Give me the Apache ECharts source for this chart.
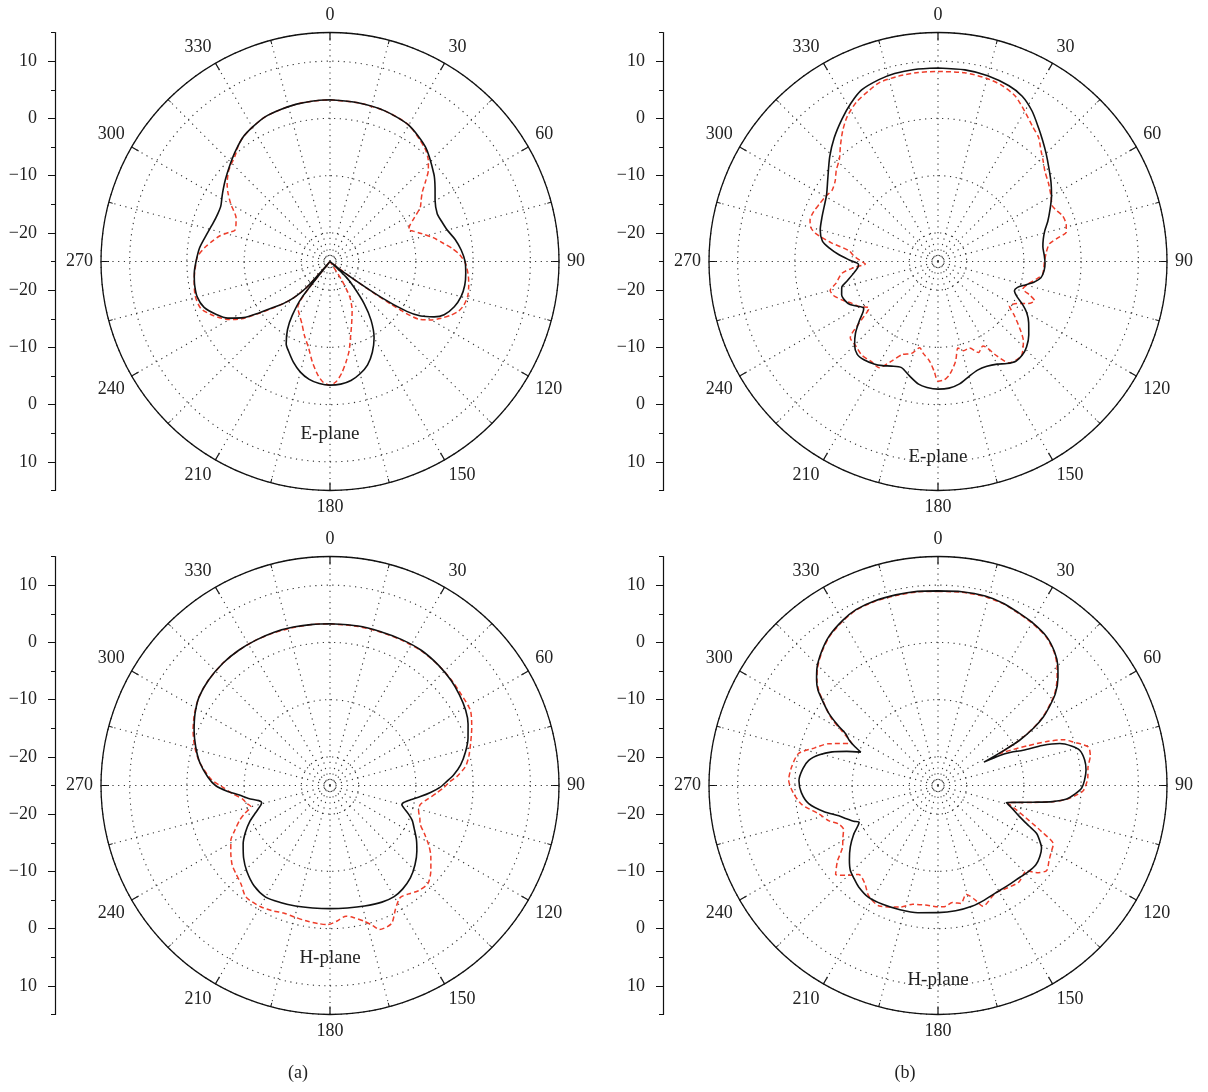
<!DOCTYPE html>
<html>
<head>
<meta charset="utf-8">
<title>E-plane / H-plane patterns</title>
<script src="https://cdn.jsdelivr.net/npm/echarts@6.0.0/dist/echarts.min.js"></script>
<style>
  html, body { margin: 0; padding: 0; background: #fff; }
  #chart { width: 1208px; height: 1092px; }
</style>
</head>
<body>
<div id="chart"></div>
<script>
// left scale labels, bottom to top (mirrored dB scale)
const scaleLabels = [10, 0, -10, -20, -20, -10, 0, 10];

// (a) E-plane
const aBlackAng = [0,10,20,30,40,50,55,60,66,70,75,80,85,90,95,100,105,110,115,118,121,123,125,128,131,134,137,141,145,150,155,160,165,170,175,180,185,190,195,200,205,208,212,215,218,220,222,225,228,231,234,237,241,245,250,255,260,265,270,276,282,288,293,297,301,304,308,313,319,325,330,336,342,348,354,360];
const aBlackDb = [3.25,3.15,3.0,2.5,1.0,-1.3,-2.6,-3.8,-4.5,-4.3,-3.8,-2.8,-2.0,-1.4,-1.2,-1.1,-1.3,-1.9,-3.0,-4.4,-6.5,-9,-14,-22,-25,-21,-18.9,-15.5,-12.5,-9.6,-7.5,-5.8,-4.7,-3.9,-3.5,-3.4,-3.6,-4.1,-5.0,-6.3,-7.8,-8.7,-11,-13.5,-17,-25,-19,-16,-14,-12.2,-9.8,-7.0,-4.6,-3.1,-1.6,-1.0,-1.0,-1.2,-1.6,-2.1,-2.9,-3.5,-3.7,-3.6,-3.0,-2.5,-1.8,-0.9,0.3,1.5,2.1,2.7,2.9,3.1,3.2,3.25];
const aRedAng = [0,10,20,30,40,44,47,50,53,56,59,63,66,68,70,73,77,81,84,87,91,96,100,104,108,111,114,117,120,123,125,127,130,145,148,151,156,161,165,168,171,174,177,180,183,186,190,194,199,204,210,215,218,220,222,225,228,231,234,237,240,245,250,256,263,268,272,275,277,280,283,286,288,291,295,298,300,304,307,312,318,322,325,330,336,342,348,354,360];
const aRedDb = [3.25,3.15,3.0,2.5,0.8,-0.3,-1.5,-3.2,-4.8,-5.8,-6.6,-8.6,-9.8,-10.2,-9.5,-8.3,-6.5,-4.9,-3.5,-2.3,-1.3,-0.7,-0.4,-0.2,-0.4,-0.9,-1.9,-3.2,-4.6,-6.5,-12,-20,-25,-25,-21,-17.8,-15.5,-13.4,-11.2,-9.0,-7.2,-5.4,-4.0,-3.4,-3.8,-5.0,-7.2,-9.5,-11.3,-13,-14.3,-15.2,-18,-25,-19,-16,-14,-12,-9.5,-6.6,-4.7,-2.6,-1.0,-0.7,-1.1,-1.5,-1.8,-2.6,-3.2,-4.2,-5.2,-6.6,-7.5,-7.4,-6.9,-5.9,-5.0,-3.5,-2.5,-1.2,-0.2,0.9,1.5,2.1,2.7,2.9,3.1,3.2,3.25];

// (b) E-plane
const bBlackAng = [0,8,15,22,27,32,37,41,45,50,55,60,65,70,74,78,82,87,91,95,99,102,105,108,111,114,117,120,124,129,134,138,142,146,150,155,160,165,170,175,180,185,189,194,199,204,208,212,217,221,225,229,233,236,238,241,244,247,251,255,258,262,266,268,271,274,277,280,285,291,296,301,307,314,320,326,331,336,342,347,353,360];
const bBlackDb = [8.8,8.8,8.6,8.1,7.4,6.0,4.2,2.9,1.7,0.3,-0.9,-2.1,-3.4,-4.6,-5.6,-6.2,-6.5,-6.4,-6.3,-6.4,-6.8,-7.8,-9.2,-10.4,-10.7,-9.9,-8.4,-7.1,-5.9,-4.6,-3.5,-3.0,-2.9,-3.5,-4.3,-4.8,-4.8,-4.2,-3.3,-2.8,-2.7,-2.9,-3.3,-4.4,-5.4,-5.0,-4.4,-3.9,-3.5,-3.5,-4.4,-5.9,-7.8,-9.2,-9.7,-8.9,-7.9,-7.4,-7.2,-7.6,-8.8,-10.1,-11.0,-11.1,-9.5,-7.6,-5.9,-4.5,-3.7,-3.3,-2.9,-2.3,-0.9,1.3,3.2,5.0,6.5,7.8,8.4,8.7,8.8,8.8];
const bRedAng = [0,8,15,20,25,30,35,39,43,46,50,55,60,64,67,70,74,77,79,81,85,90,94,97,100,104,108,110,112,115,118,122,125,129,133,138,141,145,148,152,156,160,164,167,170,174,177,180,182,185,189,192,196,201,205,209,214,219,224,229,232,236,240,244,248,252,255,258,263,266,268,271,274,277,280,283,285,288,292,296,300,304,308,312,316,320,324,328,333,338,342,348,354,360];
const bRedDb = [8.2,8.3,8.1,7.7,6.9,5.3,3.8,2.9,1.4,0.5,-0.6,-1.4,-2.2,-2.8,-2.4,-1.8,-1.7,-2.0,-3.8,-5.3,-6.0,-6.4,-6.5,-6.6,-7.5,-8.8,-9.4,-8.0,-6.8,-7.6,-9.4,-10.3,-8.8,-6.7,-4.6,-3.1,-3.0,-3.4,-5.5,-8.3,-7.6,-8.9,-8.8,-9.5,-7.3,-5.2,-4.3,-4.1,-5.8,-7.6,-8.7,-9.6,-8.3,-7.6,-5.8,-3.8,-4.0,-3.9,-4.4,-4.7,-7.5,-10.5,-9.2,-8.3,-7.0,-5.8,-5.5,-6.8,-8.1,-10.4,-12.3,-11.3,-10.2,-9.3,-6.0,-3.0,-2.0,-1.5,-1.6,-2.0,-2.3,-2.7,-2.2,-1.1,-0.2,1.5,3.3,4.9,6.3,7.2,7.9,8.1,8.2,8.2];

// (c) H-plane
const cBlackAng = [0,10,18,26,34,42,49,55,61,66,71,76,81,85,88,91,94,97,100,103,105,107,110,113,117,122,127,133,139,145,150,156,164,172,180,188,196,203,210,217,224,230,236,241,246,250,254,256,258,261,264,267,270,274,280,286,292,298,304,311,319,326,333,340,347,354,360];
const cBlackDb = [3.25,3.3,3.3,3.4,3.5,3.3,3.0,2.6,2.1,1.4,0.5,-0.6,-1.9,-3.3,-4.6,-5.8,-7.4,-9.1,-10.7,-11.8,-12.0,-11.5,-10.4,-9.4,-8.5,-7.2,-6.0,-4.7,-3.6,-2.9,-2.6,-2.7,-3.1,-3.4,-3.5,-3.4,-3.1,-2.8,-2.5,-3.0,-4.1,-5.3,-6.7,-8.1,-9.7,-11.2,-12.4,-12.7,-12.3,-10.6,-9.1,-6.9,-5.0,-3.6,-1.9,-0.6,0.6,1.7,2.6,3.1,3.4,3.5,3.5,3.5,3.4,3.3,3.25];
const cRedAng = [0,10,18,26,34,42,49,55,62,68,73,78,82,86,88,91,94,98,102,106,110,113,117,121,125,130,135,140,144,148,152,156,161,163,166,170,173,177,181,185,190,195,200,205,210,217,222,227,231,236,241,245,249,252,255,258,261,265,269,273,280,286,292,298,304,311,319,326,333,340,347,354,360];
const cRedDb = [3.25,3.2,3.2,3.3,3.4,3.3,3.1,2.9,2.8,1.7,0.7,-0.2,-1.1,-2.8,-4.0,-5.1,-6.3,-7.8,-8.9,-8.9,-8.3,-7.9,-6.5,-4.9,-3.5,-2.0,-0.8,-1.0,-1.6,-1.9,-0.6,1.4,1.6,0.6,-0.6,-1.6,-2.0,-1.3,-0.7,-0.8,-1.0,-1.2,-1.3,-0.9,-0.6,-0.6,-1.8,-2.5,-3.0,-4.1,-5.2,-6.7,-8.1,-9.4,-10.7,-10.1,-9.6,-8.0,-6.3,-4.2,-1.9,-0.4,0.8,1.8,2.6,3.1,3.4,3.5,3.5,3.4,3.3,3.3,3.25];

// (d) H-plane
const dBlackAng = [0,7,14,20,25,30,36,41,45,48,52,55,57,59,61,62,63,64,65.5,67.5,69,71,73.5,76,80,84,88,91,93.5,96,98,100,102,104,107,111,114,116,119,121,125,129,134,138,145,152,158,164,172,180,189,197,205,212,218,222,226,230,235,240,245,247,250,253,257,262,267,272,277,281,284.5,287.6,290.5,293.4,295,297,299.3,301,303.4,306,308.5,311,314,319,324,330,335,341,347.5,354,360];
const dBlackDb = [9.0,9.1,9.1,8.8,8.3,7.9,7.2,6.0,4.6,3.2,1.0,-1.4,-3.1,-5.5,-8.7,-12,-16,-13,-11,-8.9,-5.5,-2.5,-0.7,0.5,1.0,1.0,0.6,0.1,-1.0,-2.4,-4.8,-8.2,-10.8,-12.7,-11.5,-9.7,-7.6,-5.8,-4.6,-3.9,-3.3,-3.0,-3.2,-3.5,-3.7,-3.7,-3.4,-3.1,-2.9,-2.8,-2.5,-2.3,-2.1,-2.0,-2.5,-3.1,-3.7,-4.8,-6.3,-8.0,-9.8,-9.0,-8.0,-6.9,-4.6,-2.2,-1.1,-0.7,-1.2,-2.0,-3.6,-5.6,-8.0,-10.3,-9.0,-7.6,-6.5,-4.6,-2.2,-0.2,1.8,3.1,4.4,6.0,7.3,8.3,8.9,9.1,9.1,9.1,9.0];
const dRedAng = [0,7,14,20,25,30,36,41,45,48,52,55,57,59,61,62.5,64,66,68,70,72.2,75.6,79,83,87,92,94,96,98,100,102,104,107,111,114,117,121,124,128,131,134,140,146,152,159.6,162,165.5,169,173,177,180,186,192,197,206,212,217,221.7,225,229,233,237,241,245,248.8,252,256.6,262,267,272,277,282.9,287,291,296,298,300,302,304,306,308.5,311,314,319,324,330,335,341,347.5,354,360];
const dRedDb = [8.9,9.0,9.0,8.7,8.2,7.8,7.1,5.9,4.4,3.0,0.8,-1.6,-3.3,-5.7,-8.9,-13,-11,-8,-4.5,-1.6,-0.2,2.1,2.1,1.4,1.2,0.4,-0.8,-2.3,-4.7,-8.0,-10.7,-12.5,-10.8,-8.0,-5.2,-2.4,-2.0,-1.6,-0.9,-1.8,-3.5,-3.0,-3.4,-3.7,-2.5,-4.0,-5.4,-4.0,-4.4,-3.8,-3.8,-4.0,-3.8,-2.8,-1.6,-2.2,-3.7,-4.2,-2.8,-1.3,-3.0,-5.1,-6.0,-6.8,-6.4,-5.0,-3.6,-1.0,0.3,1.1,0.8,0.0,-2.5,-4.6,-8.3,-7.0,-5.3,-3.2,-1.7,-0.3,1.6,3.0,4.3,5.9,7.2,8.2,8.8,9.0,9.0,9.0,8.9];

const FONT = 'Liberation Serif';
const R = 229;
const DOT = { color: '#333', width: 1.1, type: [1.2, 4.5] };
const panels = [
  { center: [330, 261.5], axisX: 55, black: [aBlackAng, aBlackDb], red: [aRedAng, aRedDb], tag: 'E-plane', tagY: 434 },
  { center: [938, 261.5], axisX: 663, black: [bBlackAng, bBlackDb], red: [bRedAng, bRedDb], tag: 'E-plane', tagY: 457 },
  { center: [330, 785.5], axisX: 55, black: [cBlackAng, cBlackDb], red: [cRedAng, cRedDb], tag: 'H-plane', tagY: 958 },
  { center: [938, 785.5], axisX: 663, black: [dBlackAng, dBlackDb], red: [dRedAng, dRedDb], tag: 'H-plane', tagY: 980 }
];

function fmtDb(v) {
  return v < 0 ? '\u2212' + Math.abs(v) : String(v);
}
function pairs(ang, db) {
  return ang.map((a, i) => [db[i], a]);
}

const chart = echarts.init(document.getElementById('chart'));

const polar = [], angleAxis = [], radiusAxis = [], grid = [], xAxis = [], yAxis = [], series = [], graphic = [];

panels.forEach((p, k) => {
  polar.push({ center: p.center, radius: R });
  angleAxis.push({
    polarIndex: k,
    type: 'value',
    min: 0,
    max: 360,
    interval: 30,
    startAngle: 90,
    clockwise: true,
    axisLine: { lineStyle: { color: '#111', width: 1.3 } },
    axisTick: { inside: true, length: 8, lineStyle: { color: '#111', width: 1.2 } },
    minorTick: { show: true, splitNumber: 2, length: 4, lineStyle: { color: '#111', width: 1 } },
    axisLabel: {
      margin: 8,
      color: '#222',
      fontFamily: FONT,
      fontSize: 18,
      formatter: v => (v === 360 ? '' : String(v))
    },
    splitLine: { show: true, lineStyle: DOT },
    minorSplitLine: { show: true, lineStyle: DOT }
  });
  radiusAxis.push({
    polarIndex: k,
    type: 'value',
    min: -25,
    max: 15,
    splitNumber: 4,
    axisLine: { show: false },
    axisTick: { show: false },
    axisLabel: { show: false },
    splitLine: { show: true, lineStyle: DOT }
  });

  // left scale: axis line + minor ticks
  const top = p.center[1] - R;
  grid.push({ left: p.axisX, top: top, width: 10, height: 2 * R });
  xAxis.push({ gridIndex: 2 * k, type: 'value', show: false });
  yAxis.push({
    gridIndex: 2 * k,
    type: 'value',
    min: 0,
    max: 80,
    interval: 10,
    axisLine: { show: true, lineStyle: { color: '#111', width: 1.2 } },
    axisTick: { show: true, length: 4, lineStyle: { color: '#111' } },
    axisLabel: { show: false },
    splitLine: { show: false }
  });
  // left scale: labelled major ticks
  const step = 2 * R / 80;
  grid.push({ left: p.axisX, top: top + 5 * step, width: 10, height: 70 * step });
  xAxis.push({ gridIndex: 2 * k + 1, type: 'value', show: false });
  yAxis.push({
    gridIndex: 2 * k + 1,
    type: 'value',
    min: 0,
    max: 70,
    interval: 10,
    axisLine: { show: false },
    axisTick: { show: true, length: 7, lineStyle: { color: '#111' } },
    axisLabel: {
      margin: 18,
      color: '#222',
      fontFamily: FONT,
      fontSize: 18,
      formatter: (v, i) => fmtDb(scaleLabels[i])
    },
    splitLine: { show: false }
  });

  series.push({
    type: 'line',
    coordinateSystem: 'polar',
    polarIndex: k,
    data: pairs(p.red[0], p.red[1]),
    showSymbol: false,
    smooth: 0.25,
    lineStyle: { color: '#ee3d2a', width: 1.5, type: [5, 3] },
    z: 3
  });
  series.push({
    type: 'line',
    coordinateSystem: 'polar',
    polarIndex: k,
    data: pairs(p.black[0], p.black[1]),
    showSymbol: false,
    smooth: 0.25,
    lineStyle: { color: '#111', width: 1.6 },
    z: 4
  });

  graphic.push({
    type: 'text',
    x: p.center[0],
    y: p.tagY,
    style: { text: p.tag, fontFamily: FONT, fontSize: 19, fill: '#222', align: 'center', verticalAlign: 'middle' },
    z: 10
  });
});

graphic.push({ type: 'text', x: 298, y: 1073, style: { text: '(a)', fontFamily: FONT, fontSize: 18, fill: '#222', align: 'center', verticalAlign: 'middle' } });
graphic.push({ type: 'text', x: 905, y: 1073, style: { text: '(b)', fontFamily: FONT, fontSize: 18, fill: '#222', align: 'center', verticalAlign: 'middle' } });

chart.setOption({
  animation: false,
  backgroundColor: '#fff',
  polar: polar,
  angleAxis: angleAxis,
  radiusAxis: radiusAxis,
  grid: grid,
  xAxis: xAxis,
  yAxis: yAxis,
  series: series,
  graphic: graphic
});
</script>
</body>
</html>
